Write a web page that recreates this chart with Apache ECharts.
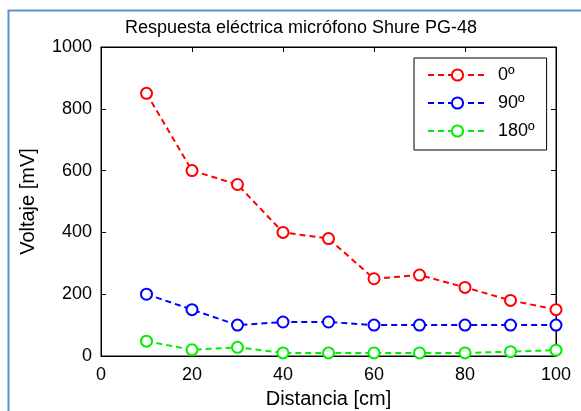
<!DOCTYPE html>
<html><head><meta charset="utf-8">
<script src="https://cdn.jsdelivr.net/npm/echarts@6/dist/echarts.min.js"></script>
<style>html,body{margin:0;padding:0;background:#fff}#c{width:581px;height:411px}</style>
</head><body><div id="c"></div>
<script>
const distances = [10, 20, 30, 40, 50, 60, 70, 80, 90, 100];
const v0 = [850, 600, 555, 400, 380, 250, 262, 222, 180, 150];
const v90 = [200, 150, 100, 110, 110, 100, 100, 100, 100, 100];
const v180 = [48, 20, 28, 10, 10, 10, 10, 10, 14, 19];
const seriesNames = ['0º', '90º', '180º'];
const colors = ['#ff0000', '#0000ff', '#00ee00'];
const xTicks = [0, 20, 40, 60, 80, 100];
const yTicks = [0, 200, 400, 600, 800, 1000];

const chart = echarts.init(document.getElementById('c'), null, {renderer: 'canvas'});
const font = 'Arial, "Liberation Sans", sans-serif';
function mk(name, data, color) {
  return {
    name: name, type: 'line',
    data: distances.map((d, i) => [d, data[i]]),
    symbol: 'circle', symbolSize: 11, showAllSymbol: true,
    itemStyle: {color: '#fff', borderColor: color, borderWidth: 2},
    lineStyle: {color: color, width: 2, type: [6, 4]},
    emphasis: {disabled: true}
  };
}
const axisCommon = {
  axisLine: {show: true, onZero: false, lineStyle: {color: '#000', width: 1}},
  axisTick: {show: true, inside: true, length: 5, lineStyle: {color: '#000'}},
  splitLine: {show: false},
};
chart.setOption({
  animation: false,
  backgroundColor: '#fff',
  title: {text: 'Respuesta eléctrica micrófono Shure PG-48', left: 296, top: 14, textAlign: 'center',
    textStyle: {fontFamily: font, fontSize: 18, fontWeight: 'normal', color: '#000'}},
  grid: {left: 101, right: 25, top: 47, bottom: 55, show: true, borderColor: '#000', borderWidth: 1,
    containLabel: false, outerBoundsMode: 'none'},
  legend: {
    data: seriesNames, orient: 'vertical', left: 414, top: 58,
    padding: [8, 12, 10, 13], itemGap: 10,
    borderColor: '#000', borderWidth: 1, backgroundColor: '#fff',
    itemWidth: 59, itemHeight: 14,
    textStyle: {fontFamily: font, fontSize: 18, color: '#000', padding: [0, 0, 0, 6]}
  },
  xAxis: [Object.assign({
    type: 'value', min: 0, max: 100, interval: 20,
    name: 'Distancia [cm]', nameLocation: 'middle', nameGap: 33,
    nameTextStyle: {fontFamily: font, fontSize: 20, color: '#000'},
    axisLabel: {fontFamily: font, fontSize: 18, color: '#000', margin: 10,
      formatter: v => xTicks.includes(v) ? String(v) : ''}
  }, axisCommon), Object.assign({
    type: 'value', min: 0, max: 100, interval: 20, position: 'top',
    axisLabel: {show: false}
  }, axisCommon)],
  yAxis: [Object.assign({
    type: 'value', min: 0, max: 1000, interval: 200,
    name: 'Voltaje [mV]', nameLocation: 'middle', nameGap: 63,
    nameTextStyle: {fontFamily: font, fontSize: 20, color: '#000'},
    axisLabel: {fontFamily: font, fontSize: 18, color: '#000', margin: 9,
      formatter: v => yTicks.includes(v) ? String(v) : ''}
  }, axisCommon), Object.assign({
    type: 'value', min: 0, max: 1000, interval: 200, position: 'right',
    axisLabel: {show: false}
  }, axisCommon)],
  graphic: [{
    type: 'polyline', silent: true, z: 100,
    shape: {points: [[8.5, 411], [8.5, 10.5], [581, 10.5]]},
    style: {stroke: '#5b8fd0', lineWidth: 2, fill: null}
  }],
  series: [mk(seriesNames[0], v0, colors[0]), mk(seriesNames[1], v90, colors[1]), mk(seriesNames[2], v180, colors[2])]
});
</script></body></html>
